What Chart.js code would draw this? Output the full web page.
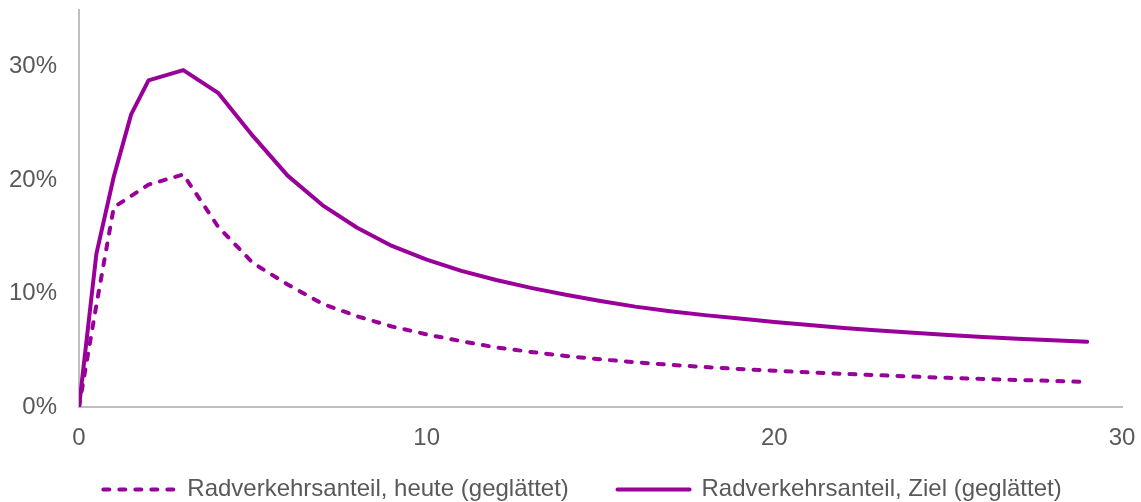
<!DOCTYPE html>
<html lang="de">
<head>
<meta charset="utf-8">
<title>Radverkehrsanteil nach Entfernung</title>
<script src="https://cdn.jsdelivr.net/npm/chart.js@4/dist/chart.umd.min.js"></script>
<style>
  html, body { margin: 0; padding: 0; background: #ffffff; }
  #wrap { position: relative; width: 1141px; height: 502px; }
</style>
</head>
<body>
<div id="wrap"><canvas id="chart" width="1141" height="502"></canvas></div>
<script>
// Entfernung in km
const distances = [0, 0.5, 1, 1.5, 2, 3, 4, 5, 6, 7, 8, 9, 10, 11, 12, 13, 14, 15,
  16, 17, 18, 19, 20, 21, 22, 23, 24, 25, 26, 27, 28, 29];

// Radverkehrsanteil heute (geglättet), in %
const shareToday = [0, 9.0, 17.6, 18.6, 19.6, 20.5, 15.9, 12.7, 10.8, 9.1, 8.0, 7.1,
  6.4, 5.8, 5.25, 4.85, 4.5, 4.2, 3.95, 3.72, 3.52, 3.35, 3.2, 3.05, 2.92, 2.8,
  2.68, 2.57, 2.47, 2.38, 2.3, 2.2];

// Radverkehrsanteil Ziel (geglättet), in %
const shareTarget = [0, 13.5, 20.3, 25.8, 28.8, 29.7, 27.7, 23.9, 20.4, 17.8, 15.8,
  14.2, 13.0, 12.0, 11.2, 10.5, 9.9, 9.35, 8.85, 8.45, 8.1, 7.8, 7.5, 7.22, 6.97,
  6.75, 6.55, 6.35, 6.18, 6.02, 5.88, 5.75];

const seriesLabels = ['Radverkehrsanteil, heute (geglättet)', 'Radverkehrsanteil, Ziel (geglättet)'];
const xTicks = [0, 10, 20, 30];
const yTicks = [0, 10, 20, 30];

const purple = '#990099';
const textGrey = '#595959';
const axisGrey = '#bfbfbf';
const fontFamily = '"Liberation Sans", Arial, Helvetica, sans-serif';
const lineWidth = 4;
const dashPattern = [6, 10];

const toPoints = (values) => values.map((v, i) => ({ x: distances[i], y: v }));

// Shifts the legend row sideways so it sits centred under the plot
const legendShift = {
  id: 'legendShift',
  afterLayout(chart) {
    const lg = chart.legend;
    if (lg) { lg.left += 21.5; lg.right += 21.5; }
  }
};

new Chart(document.getElementById('chart'), {
  type: 'line',
  plugins: [legendShift],
  data: {
    datasets: [
      {
        label: seriesLabels[0] + '       ',
        data: toPoints(shareToday),
        borderColor: purple,
        backgroundColor: purple,
        borderWidth: lineWidth,
        borderDash: dashPattern,
        borderCapStyle: 'round',
        borderJoinStyle: 'round',
        pointRadius: 0,
        pointHoverRadius: 0,
        tension: 0,
        fill: false
      },
      {
        label: seriesLabels[1],
        data: toPoints(shareTarget),
        borderColor: purple,
        backgroundColor: purple,
        borderWidth: lineWidth,
        borderCapStyle: 'round',
        borderJoinStyle: 'round',
        pointRadius: 0,
        pointHoverRadius: 0,
        tension: 0,
        fill: false
      }
    ]
  },
  options: {
    responsive: false,
    animation: false,
    events: [],
    layout: { padding: { left: 0, right: 19, top: 10, bottom: 0 } },
    font: { family: fontFamily, size: 24 },
    scales: {
      x: {
        type: 'linear',
        min: 0,
        max: 30,
        afterBuildTicks: (scale) => { scale.ticks = xTicks.map(v => ({ value: v })); },
        afterFit: (scale) => {
          scale.height = 68.6;
          scale.paddingLeft = 0;
          scale.paddingRight = 0;
        },
        grid: { display: false, drawTicks: false },
        border: { display: true, color: axisGrey, width: 2 },
        ticks: {
          color: textGrey,
          padding: 17,
          maxRotation: 0,
          font: { family: fontFamily, size: 24 }
        }
      },
      y: {
        type: 'linear',
        min: 0,
        max: 35,
        afterBuildTicks: (scale) => { scale.ticks = yTicks.map(v => ({ value: v })); },
        afterFit: (scale) => {
          scale.width = 79;
          scale.paddingTop = 0;
          scale.paddingBottom = 0;
        },
        grid: { display: false, drawTicks: false },
        border: { display: true, color: axisGrey, width: 2 },
        ticks: {
          color: textGrey,
          padding: 22,
          callback: (v) => v + '%',
          font: { family: fontFamily, size: 24 }
        }
      }
    },
    plugins: {
      tooltip: { enabled: false },
      legend: {
        display: true,
        position: 'bottom',
        maxHeight: 26.4,
        labels: {
          color: textGrey,
          font: { family: fontFamily, size: 24 },
          usePointStyle: true,
          pointStyle: 'line',
          pointStyleWidth: 72,
          padding: 2,
          generateLabels: (chart) => {
            const items = Chart.defaults.plugins.legend.labels.generateLabels(chart);
            return items.map((item) => {
              const ds = chart.data.datasets[item.datasetIndex];
              item.lineDash = ds.borderDash || [];
              item.lineCap = 'round';
              item.lineWidth = lineWidth;
              item.strokeStyle = purple;
              item.pointStyle = 'line';
              return item;
            });
          }
        }
      }
    }
  }
});
</script>
</body>
</html>
